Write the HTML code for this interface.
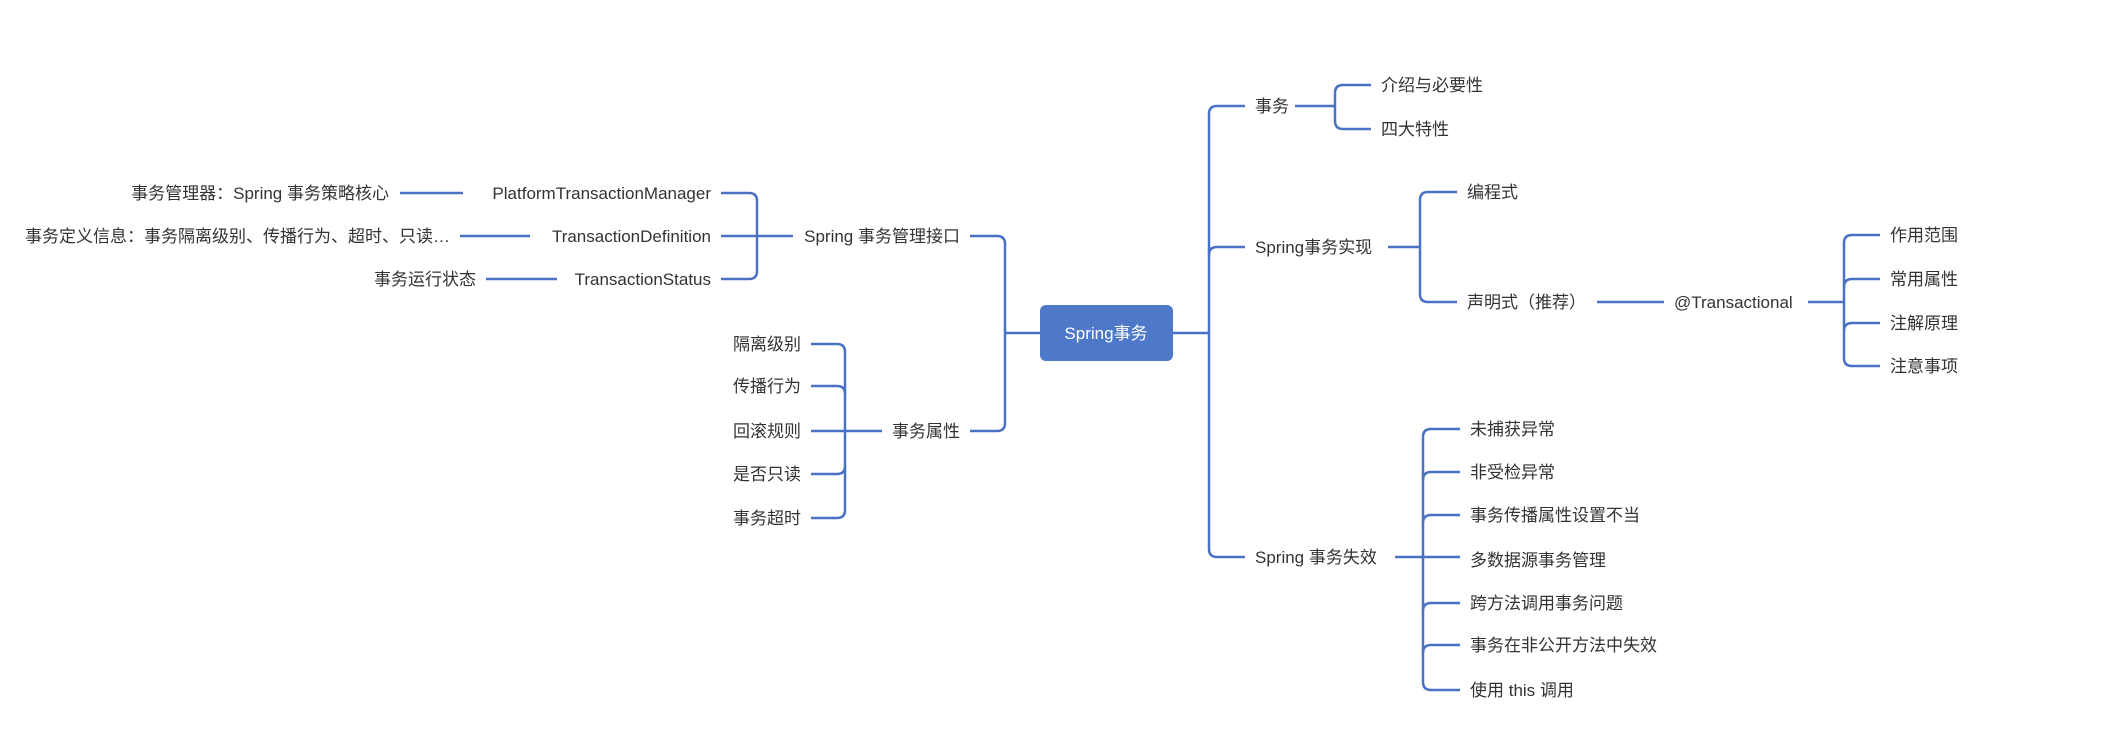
<!DOCTYPE html>
<html><head><meta charset="utf-8"><style>
html,body{margin:0;padding:0;background:#fff;}
svg{display:block}
text{font-family:"Liberation Sans","Noto Sans CJK SC",sans-serif;font-size:17px;fill:#333;}
</style></head><body>
<svg width="2104" height="730" viewBox="0 0 2104 730" xmlns="http://www.w3.org/2000/svg">
<g fill="none" stroke="#4a72c4" stroke-width="2.5">
<!-- center right -->
<path d="M1173,333 H1209"/>
<path d="M1245,106 H1217 Q1209,106 1209,114 V549 Q1209,557 1217,557 H1245"/>
<path d="M1209,255 Q1209,247 1217,247 H1245"/>
<!-- center left -->
<path d="M1040,333 H1005"/>
<path d="M970,236 H997 Q1005,236 1005,244 V423 Q1005,431 997,431 H970"/>
<!-- 事务 -->
<path d="M1295,106 H1335"/>
<path d="M1371,85 H1343 Q1335,85 1335,93 V121 Q1335,129 1343,129 H1371"/>
<!-- 实现 -->
<path d="M1388,247 H1420"/>
<path d="M1457,192 H1428 Q1420,192 1420,200 V294 Q1420,302 1428,302 H1457"/>
<path d="M1597,302 H1664"/>
<path d="M1808,302 H1844"/>
<path d="M1880,235 H1852 Q1844,235 1844,243 V358 Q1844,366 1852,366 H1880"/>
<path d="M1844,287 Q1844,279 1852,279 H1880"/>
<path d="M1844,331 Q1844,323 1852,323 H1880"/>
<!-- 失效 -->
<path d="M1395,557 H1460"/>
<path d="M1460,429 H1431 Q1423,429 1423,437 V682 Q1423,690 1431,690 H1460"/>
<path d="M1423,480 Q1423,472 1431,472 H1460"/>
<path d="M1423,523 Q1423,515 1431,515 H1460"/>
<path d="M1423,611 Q1423,603 1431,603 H1460"/>
<path d="M1423,653 Q1423,645 1431,645 H1460"/>
<!-- 接口 -->
<path d="M793,236 H721"/>
<path d="M721,193 H749 Q757,193 757,201 V271 Q757,279 749,279 H721"/>
<path d="M400,193 H463"/>
<path d="M460,236 H530"/>
<path d="M486,279 H557"/>
<!-- 属性 -->
<path d="M882,431 H811"/>
<path d="M811,344 H837 Q845,344 845,352 V510 Q845,518 837,518 H811"/>
<path d="M811,386 H837 Q845,386 845,394"/>
<path d="M811,474 H837 Q845,474 845,466"/>
</g>
<rect x="1040" y="305" width="133" height="56" rx="6" fill="#4e78c8"/>
<text x="1106" y="339" text-anchor="middle" style="fill:#fff">Spring事务</text>

<text x="1255" y="112">事务</text>
<text x="1381" y="91">介绍与必要性</text>
<text x="1381" y="135">四大特性</text>
<text x="1255" y="253">Spring事务实现</text>
<text x="1467" y="198">编程式</text>
<text x="1467" y="308">声明式（推荐）</text>
<text x="1674" y="308">@Transactional</text>
<text x="1890" y="241">作用范围</text>
<text x="1890" y="285">常用属性</text>
<text x="1890" y="329">注解原理</text>
<text x="1890" y="372">注意事项</text>
<text x="1255" y="563">Spring 事务失效</text>
<text x="1470" y="435">未捕获异常</text>
<text x="1470" y="478">非受检异常</text>
<text x="1470" y="521">事务传播属性设置不当</text>
<text x="1470" y="566">多数据源事务管理</text>
<text x="1470" y="609">跨方法调用事务问题</text>
<text x="1470" y="651">事务在非公开方法中失效</text>
<text x="1470" y="696">使用 this 调用</text>

<text x="960" y="242" text-anchor="end">Spring 事务管理接口</text>
<text x="711" y="199" text-anchor="end">PlatformTransactionManager</text>
<text x="711" y="242" text-anchor="end">TransactionDefinition</text>
<text x="711" y="285" text-anchor="end">TransactionStatus</text>
<text x="389" y="199" text-anchor="end">事务管理器：Spring 事务策略核心</text>
<text x="450" y="242" text-anchor="end">事务定义信息：事务隔离级别、传播行为、超时、只读…</text>
<text x="476" y="285" text-anchor="end">事务运行状态</text>
<text x="960" y="437" text-anchor="end">事务属性</text>
<text x="801" y="350" text-anchor="end">隔离级别</text>
<text x="801" y="392" text-anchor="end">传播行为</text>
<text x="801" y="437" text-anchor="end">回滚规则</text>
<text x="801" y="480" text-anchor="end">是否只读</text>
<text x="801" y="524" text-anchor="end">事务超时</text>
</svg>
</body></html>
